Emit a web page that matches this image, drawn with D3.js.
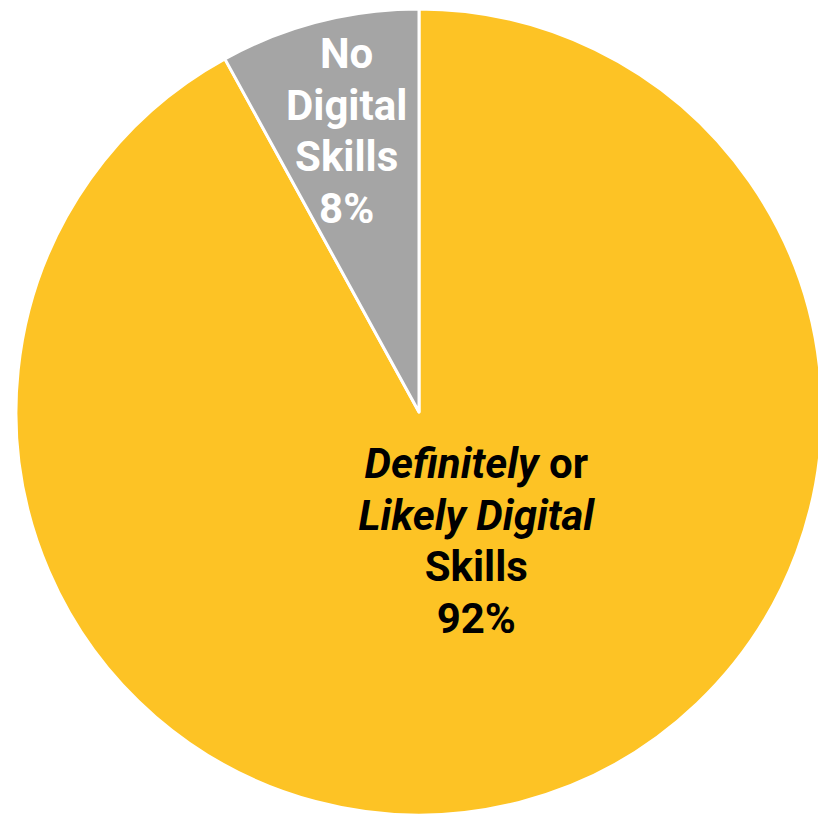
<!DOCTYPE html>
<html>
<head>
<meta charset="utf-8">
<script src="https://cdn.jsdelivr.net/npm/d3@7"></script>
<style>
  body { margin: 0; background: #fff; }
  text { font-family: Roboto, "Noto Sans", sans-serif; font-weight: 700; }
</style>
</head>
<body>
<div id="chart"></div>
<script>
var width = 818, height = 818;

// Data
var categories = ["Definitely or Likely Digital Skills", "No Digital Skills"];
var values = [92, 8];
var colors = ["#FDC325", "#A5A5A5"];
// label lines: each line is a list of [text, italic]
var labelLines = [
  [[["Definitely", true], [" or", false]], [["Likely Digital", true]], [["Skills", false]], [["92%", false]]],
  [[["No", false]], [["Digital", false]], [["Skills", false]], [["8%", false]]]
];
var labelColors = ["#000", "#fff"];

var cx = 419, cy = 412, radius = 403;

var svg = d3.select("#chart").append("svg")
    .attr("width", width)
    .attr("height", height);
var g = svg.append("g").attr("transform", "translate(" + cx + "," + cy + ")");

var pie = d3.pie().sort(null).value(function(d) { return d; });
var arc = d3.arc().innerRadius(0).outerRadius(radius);

var arcs = pie(values);

g.selectAll(".slice")
  .data(arcs)
  .enter().append("path")
  .attr("class", "slice")
  .attr("d", arc)
  .attr("fill", function(d, i) { return colors[i]; })
  .attr("stroke", "#fff")
  .attr("stroke-width", 3)
  .attr("stroke-linejoin", "round");

// label placement: radius along the mid angle, plus small shift
var labelRadius = [154, 291];
var labelShift = [[19, -21], [0, 0]];
var fontSize = 42, lineHeight = 51.5;

arcs.forEach(function(d, i) {
  var a = (d.startAngle + d.endAngle) / 2;
  var x = Math.sin(a) * labelRadius[i] + labelShift[i][0];
  var y = -Math.cos(a) * labelRadius[i] + labelShift[i][1];
  var lines = labelLines[i];
  var top = y - (lines.length - 1) * lineHeight / 2 + fontSize * 0.36;
  var t = g.append("text")
    .attr("text-anchor", "middle")
    .attr("font-size", fontSize)
    .attr("fill", labelColors[i]);
  lines.forEach(function(line, j) {
    line.forEach(function(part, k) {
      var ts = t.append("tspan")
        .text(part[0])
        .attr("font-style", part[1] ? "italic" : "normal")
        .style("white-space", "pre");
      if (k === 0) ts.attr("x", x).attr("y", top + j * lineHeight);
    });
  });
});
</script>
</body>
</html>
